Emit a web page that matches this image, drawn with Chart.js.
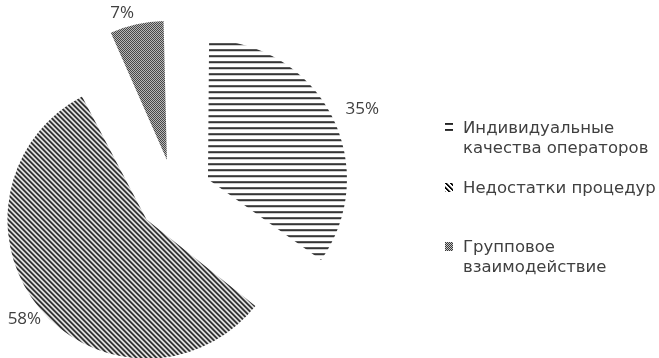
<!DOCTYPE html>
<html><head><meta charset="utf-8">
<script src="https://cdn.jsdelivr.net/npm/chart.js@4/dist/chart.umd.min.js"></script>
<style>
html,body{margin:0;padding:0;background:#fff;}
#wrap{position:relative;width:659px;height:358px;overflow:hidden;}
#c{position:absolute;left:0;top:0;}
.leg{position:absolute;left:445px;font-family:"DejaVu Sans",sans-serif;font-size:16.5px;color:#404040;line-height:20px;white-space:nowrap;}
.leg canvas{position:absolute;left:0;top:5px;}
.leg span{display:block;margin-left:18px;}
</style></head><body>
<div id="wrap"><canvas id="c" width="659" height="358"></canvas><div id="legend"></div></div>
<script>
const categories = ["Индивидуальные качества операторов", "Недостатки процедур", "Групповое взаимодействие"];
const legendLines = [["Индивидуальные", "качества операторов"], ["Недостатки процедур"], ["Групповое", "взаимодействие"]];
const shares = [35, 58, 7];
const valueLabels = ["35%", "58%", "7%"];

function makeTile(w, h, fn) {
  const c = document.createElement('canvas'); c.width = w; c.height = h;
  const x = c.getContext('2d'); const img = x.createImageData(w, h);
  for (let j = 0; j < h; j++) for (let i = 0; i < w; i++) {
    const v = fn(i, j); const k = (j * w + i) * 4;
    img.data[k] = img.data[k + 1] = img.data[k + 2] = v; img.data[k + 3] = 255;
  }
  x.putImageData(img, 0, 0); return c;
}
const tiles = [
  makeTile(8, 6, (i, j) => j === 0 ? 35 : (j === 1 ? 60 : 255)),
  makeTile(5, 5, (i, j) => { const m = (i - j + 10) % 5; return m < 2 ? 10 : (m === 2 ? 150 : 255); }),
  makeTile(2, 2, (i, j) => (i + j) % 2 === 0 ? 55 : 200)
];

const ctx = document.getElementById('c').getContext('2d');
const fills = tiles.map(t => ctx.createPattern(t, 'repeat'));

const EXPLODE = 37, R = 139;

const equalRadius = {
  id: 'equalRadius',
  beforeDatasetsDraw(chart) {
    const meta = chart.getDatasetMeta(0);
    const base = meta.controller.outerRadius;
    meta.data.forEach(a => {
      const off = (a.options.offset || 0) / 4;
      const fix = 1 - Math.sin(Math.min(Math.PI, a.circumference));
      a.outerRadius = base - off * fix;
    });
  }
};

const outLabels = {
  id: 'outLabels',
  afterDatasetsDraw(chart, args, opts) {
    const meta = chart.getDatasetMeta(0);
    const c = chart.ctx; const r = meta.controller.outerRadius;
    c.save();
    c.font = '17px "Open Sans"'; c.fillStyle = '#404040';
    c.textAlign = 'center'; c.textBaseline = 'middle';
    meta.data.forEach((a, i) => {
      const mid = (a.startAngle + a.endAngle) / 2;
      const dx = Math.cos(mid), dy = Math.sin(mid);
      const shift = (a.options.offset || 0) / 4;
      const t = valueLabels[i];
      const w = c.measureText(t).width, h = 14;
      const ext = Math.abs(dx) * w / 2 + Math.abs(dy) * h / 2;
      const d = shift + r + 6 + ext;
      const n = opts.nudge[i];
      c.fillText(t, a.x + dx * d + n[0], a.y + dy * d + n[1]);
    });
    c.restore();
  }
};

new Chart(ctx, {
  type: 'pie',
  data: {
    labels: categories,
    datasets: [{
      data: shares,
      backgroundColor: fills,
      borderWidth: 0,
      offset: EXPLODE * 4,
      clip: false
    }]
  },
  options: {
    responsive: false,
    animation: false,
    events: [],
    radius: R,
    layout: { padding: { left: 0, right: 309, top: 34, bottom: 0 } },
    plugins: {
      legend: { display: false }, tooltip: { enabled: false },
      outLabels: { nudge: [[9, 4], [3, -4], [-11, 4]] }
    }
  },
  plugins: [equalRadius, outLabels]
});

// HTML legend
const legTops = [118, 178, 237];
const legendEl = document.getElementById('legend');
legendLines.forEach((lines, i) => {
  const d = document.createElement('div'); d.className = 'leg'; d.style.top = legTops[i] + 'px';
  const sw = document.createElement('canvas'); sw.width = 8; sw.height = 9;
  const sx = sw.getContext('2d'); sx.fillStyle = sx.createPattern(tiles[i], 'repeat'); sx.fillRect(0, 0, 8, 9);
  d.appendChild(sw);
  lines.forEach(l => { const s = document.createElement('span'); s.textContent = l; d.appendChild(s); });
  legendEl.appendChild(d);
});
</script>
</body></html>
